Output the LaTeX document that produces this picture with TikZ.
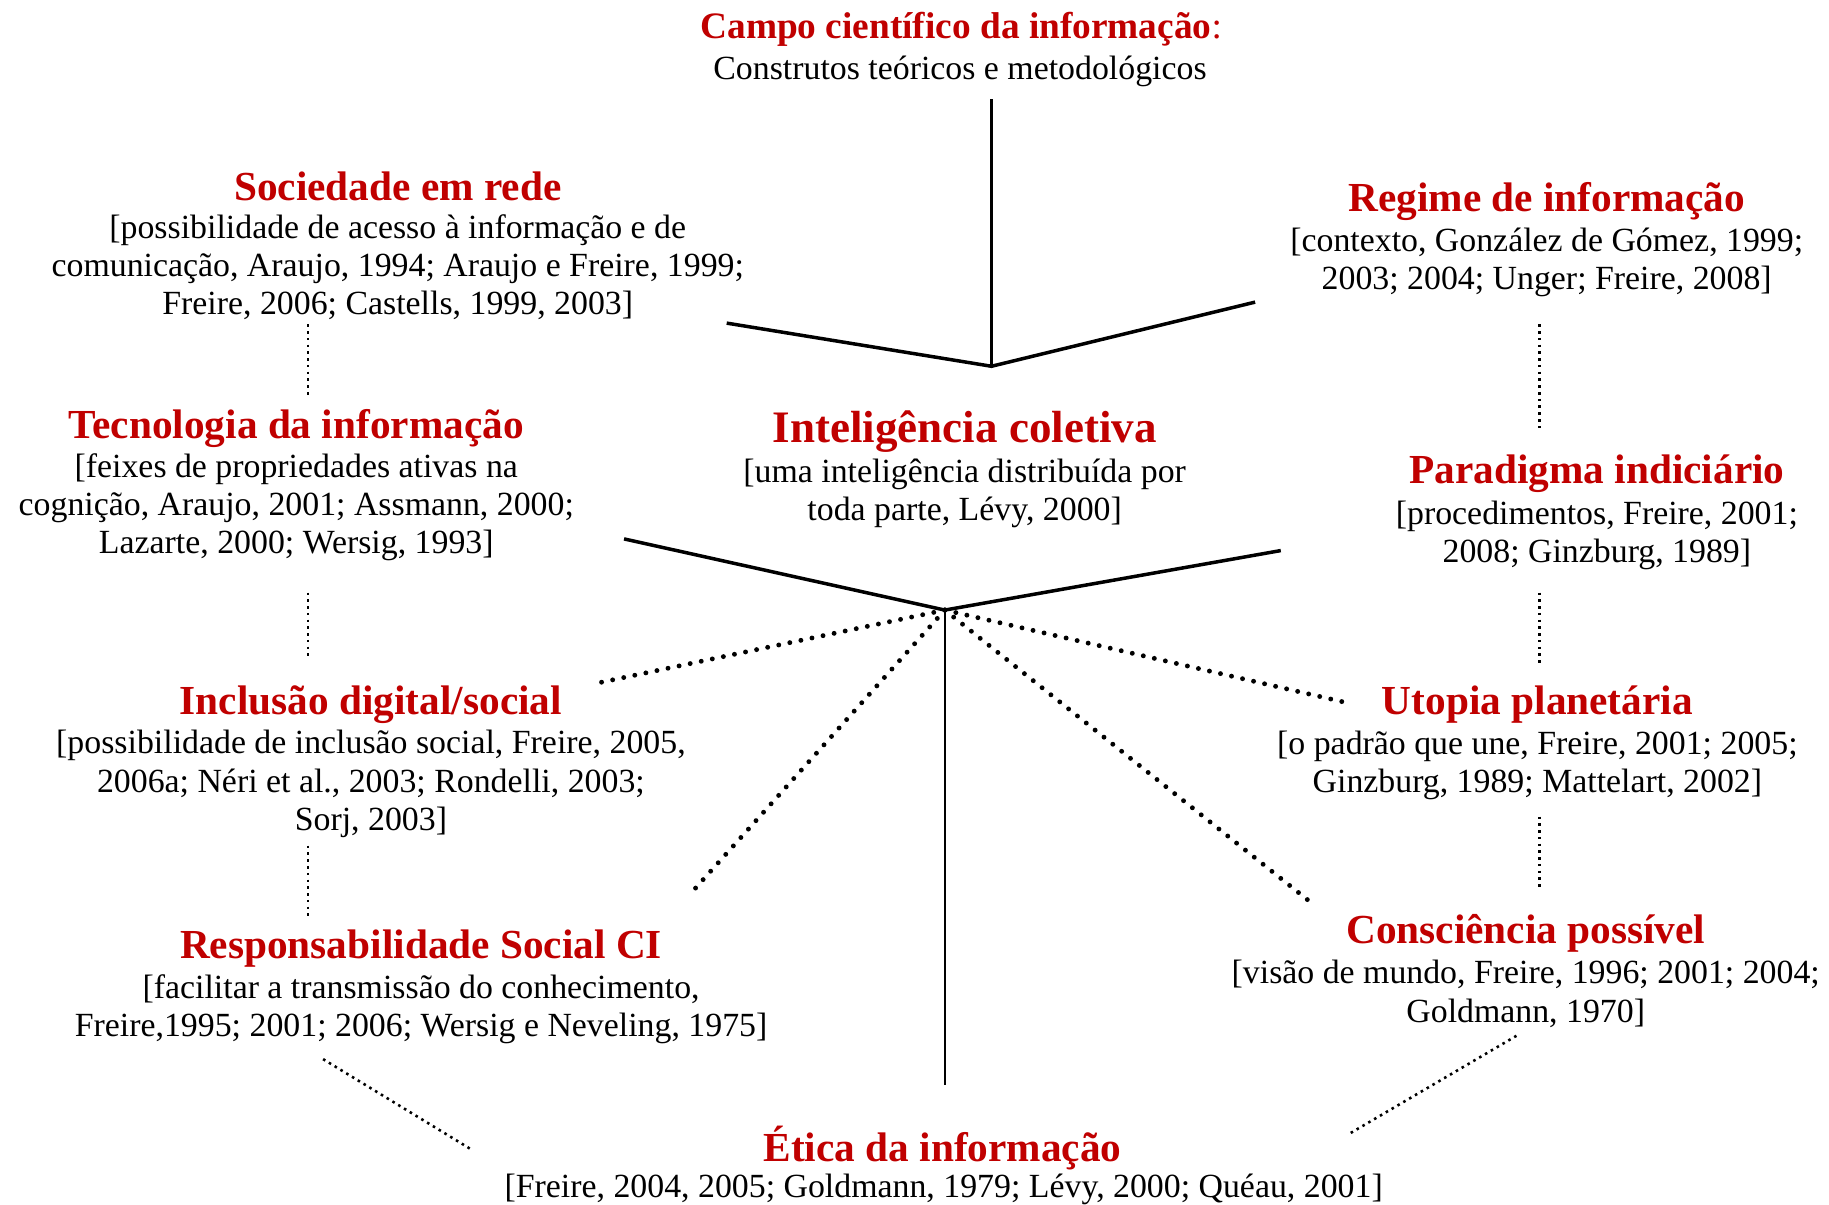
\documentclass[tikz,border=0pt]{standalone}
\usepackage{fontspec}
\setmainfont{Liberation Serif}
\definecolor{tred}{RGB}{192,0,0}
\tikzset{
  ttl/.style={inner sep=0pt, text=tred, font=\bfseries\fontsize{17.7}{20}\selectfont},
  bigttl/.style={inner sep=0pt, text=tred, font=\bfseries\fontsize{19.3}{22}\selectfont},
  body/.style={inner sep=0pt, align=center, font=\fontsize{14.5}{16.4}\selectfont},
  solidline/.style={line width=1.5pt},
  bigdots/.style={line width=2.1pt, line cap=round, dash pattern=on 0pt off 4.85pt},
  smalldots/.style={line width=1.1pt, dash pattern=on 1.1pt off 1.8pt}
}
\begin{document}
\begin{tikzpicture}[x=0.5pt,y=-0.5pt]
\useasboundingbox (0,0) rectangle (1568,1033);
% Campo
\node[inner sep=0pt, text=tred, font=\bfseries\fontsize{16}{18}\selectfont] (tcampo) at (824,25) {Campo científico da informação\mdseries:};
\node[body] (bcampo) at (823,61) {Construtos teóricos e metodológicos};
% Sociedade em rede
\node[ttl] (tsoc) at (341,160) {Sociedade em rede};
\node[body] (bsoc) at (341,229) {[possibilidade de acesso à informação e de\\comunicação, Araujo, 1994; Araujo e Freire, 1999;\\Freire, 2006; Castells, 1999, 2003]};
% Regime
\node[ttl] (treg) at (1326,173) {Regime de informação};
\node[body] (breg) at (1326,225) {[contexto, González de Gómez, 1999;\\2003; 2004; Unger; Freire, 2008]};
% Tecnologia
\node[ttl] (ttec) at (254,367) {Tecnologia da informação};
\node[body] (btec) at (254,435) {[feixes de propriedades ativas na\\cognição, Araujo, 2001; Assmann, 2000;\\Lazarte, 2000; Wersig, 1993]};
% Inteligencia
\node[bigttl] (tint) at (827,370) {Inteligência coletiva};
\node[body] (bint) at (827,423) {[uma inteligência distribuída por\\toda parte, Lévy, 2000]};
% Paradigma
\node[ttl] (tpar) at (1369,406) {Paradigma indiciário};
\node[body] (bpar) at (1369,459) {[procedimentos, Freire, 2001;\\2008; Ginzburg, 1989]};
% Inclusao
\node[ttl] (tinc) at (318,604) {Inclusão digital/social};
\node[body] (binc) at (318,672) {[possibilidade de inclusão social, Freire, 2005,\\2006a; Néri et al., 2003; Rondelli, 2003;\\Sorj, 2003]};
% Utopia
\node[ttl] (tuto) at (1318,604) {Utopia planetária};
\node[body] (buto) at (1318,656) {[o padrão que une, Freire, 2001; 2005;\\Ginzburg, 1989; Mattelart, 2002]};
% Responsabilidade
\node[ttl] (tres) at (361,813) {Responsabilidade Social CI};
\node[body] (bres) at (361,865) {[facilitar a transmissão do conhecimento,\\Freire,1995; 2001; 2006; Wersig e Neveling, 1975]};
% Consciencia
\node[ttl] (tcon) at (1308,800) {Consciência possível};
\node[body] (bcon) at (1308,852) {[visão de mundo, Freire, 1996; 2001; 2004;\\Goldmann, 1970]};
% Etica
\node[ttl] (teti) at (808,984) {Ética da informação};
\node[body] (beti) at (809,1020) {[Freire, 2004, 2005; Goldmann, 1979; Lévy, 2000; Quéau, 2001]};

% hub coordinates
\coordinate (hubA) at (850,314);
\coordinate (hubB) at (810,523);
\coordinate (topEnd) at (850,85);
\coordinate (aL) at (623,277);
\coordinate (aR) at (1076,259);
\coordinate (bL) at (535,462);
\coordinate (bR) at (1098,472);
\coordinate (bBot) at (810,930);
\coordinate (dInc) at (515,585);
\coordinate (dRes) at (593,765);
\coordinate (dUto) at (1157,603);
\coordinate (dCon) at (1123,773);

\draw[line width=1.3pt] (topEnd) -- (hubA);
\draw[solidline] (aL) -- (hubA) -- (aR);
\draw[solidline] (bL) -- (hubB) -- (bR);
\draw[line width=1.1pt] (hubB) -- (bBot);
\foreach \e in {dInc,dRes,dUto,dCon} \draw[bigdots] (hubB) -- (\e);

% thin dotted links
\coordinate (l1a) at (264,278); \coordinate (l1b) at (264,340);
\coordinate (l2a) at (264,508); \coordinate (l2b) at (264,565);
\coordinate (l3a) at (264,725); \coordinate (l3b) at (264,787);
\coordinate (r1a) at (1320,278); \coordinate (r1b) at (1320,370);
\coordinate (r2a) at (1320,508); \coordinate (r2b) at (1320,568);
\coordinate (r3a) at (1320,700); \coordinate (r3b) at (1320,762);
\coordinate (e1a) at (277,908); \coordinate (e1b) at (405,986);
\coordinate (e2a) at (1300,888); \coordinate (e2b) at (1155,973);
\draw[smalldots] (l1a) -- (l1b);
\draw[smalldots] (l2a) -- (l2b);
\draw[smalldots] (l3a) -- (l3b);
\draw[smalldots] (r1a) -- (r1b);
\draw[smalldots] (r2a) -- (r2b);
\draw[smalldots] (r3a) -- (r3b);
\draw[smalldots] (e1a) -- (e1b);
\draw[smalldots] (e2a) -- (e2b);
\end{tikzpicture}
\end{document}
